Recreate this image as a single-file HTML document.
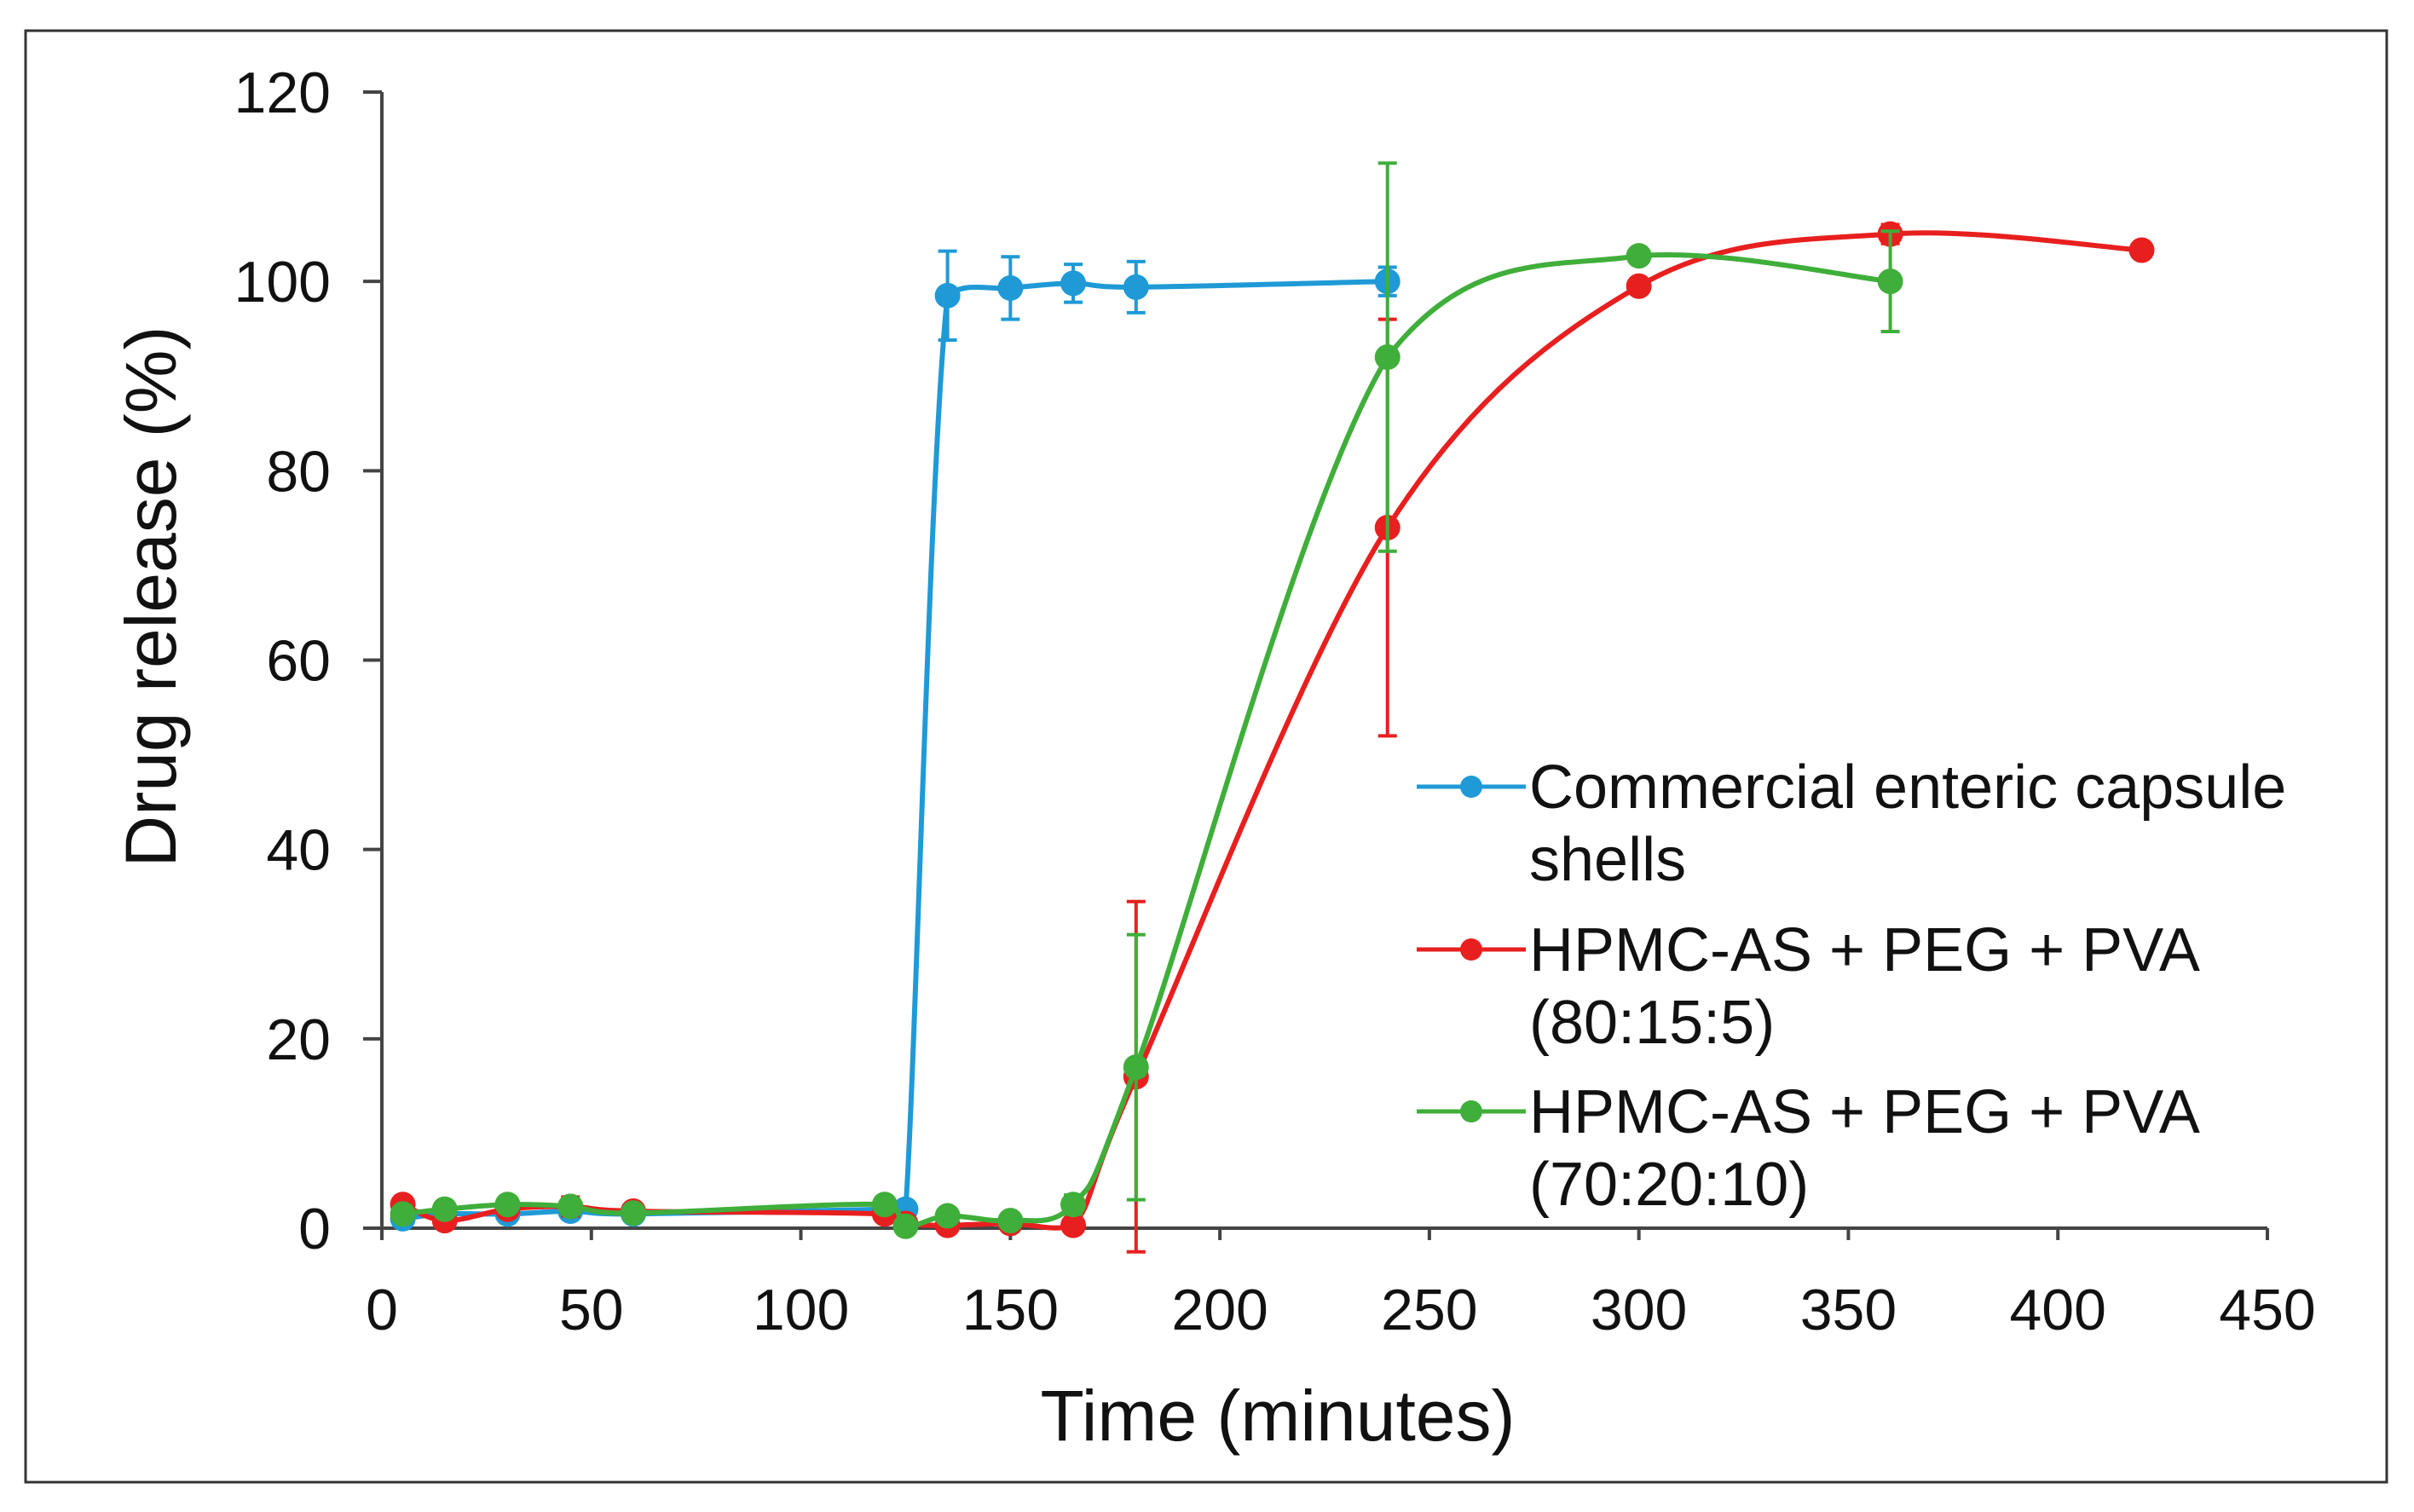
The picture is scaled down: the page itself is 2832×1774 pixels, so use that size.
<!DOCTYPE html>
<html><head><meta charset="utf-8"><style>
html,body{margin:0;padding:0;background:#fff;}
svg{display:block;font-family:"Liberation Sans",Arial,sans-serif;}
</style></head><body>
<svg id="chart" width="2832" height="1774" viewBox="0 0 2832 1774">
<rect x="30" y="36" width="2770" height="1703" fill="#fff" stroke="#333" stroke-width="3"/>
<g id="axes"></g><g id="series"></g><g id="legend"></g>
<text x="1499" y="1690" font-size="84" text-anchor="middle" fill="#111">Time (minutes)</text>
<text transform="translate(206,700) rotate(-90)" font-size="84" text-anchor="middle" fill="#111">Drug release (%)</text>
</svg>
<script>
const xTicks=[0,50,100,150,200,250,300,350,400,450];
const yTicks=[0,20,40,60,80,100,120];
const blueX=[5,15,30,45,60,120,125,135,150,165,180,240];
const blueY=[1,1.5,1.5,1.8,1.5,2,2,98.5,99.3,99.8,99.4,100];
const blueErr=[0,0,0,0.5,0,0,0,4.7,3.3,2,2.7,1.5];
const redX=[5,15,30,45,60,120,125,135,150,165,180,240,300,360,420];
const redY=[2.5,0.8,2,2.3,1.8,1.5,0.5,0.3,0.5,0.3,16,74,99.5,105,103.3];
const redErr=[0,0,0,1,0,0,0,0,0,0,18.5,22,0,1,0];
const greenX=[5,15,30,45,60,120,125,135,150,165,180,240,300,360];
const greenY=[1.5,2,2.5,2.3,1.6,2.5,0.2,1.3,0.8,2.5,17,92,102.7,100];
const greenErr=[0,0,0,0,0,0,0,0,0,1,14,20.5,0,5.3];
const seriesNames=["Commercial enteric capsule|shells","HPMC-AS + PEG + PVA|(80:15:5)","HPMC-AS + PEG + PVA|(70:20:10)"];
const NS="http://www.w3.org/2000/svg";
const X0=448,X1=2660,Y0=1441,Y1=108;
function sx(v){return X0+(v-0)/(450-0)*(X1-X0);}
function sy(v){return Y0-(v-0)/(120-0)*(Y0-Y1);}
function mk(tag,attrs,parent){const e=document.createElementNS(NS,tag);for(const k in attrs)e.setAttribute(k,attrs[k]);parent.appendChild(e);return e;}
const axes=document.getElementById('axes');
let a=mk('line',{x1:X0,y1:Y0,x2:X1,y2:Y0,stroke:'#444','stroke-width':4},axes);


a=mk('line',{x1:X0,y1:Y0,x2:X0,y2:Y1,stroke:'#444','stroke-width':4},axes);


xTicks.forEach(t=>{
 const l=mk('line',{x1:sx(t),y1:Y0,x2:sx(t),y2:Y0+14,stroke:'#444','stroke-width':4},axes);
 
 
 const tx=mk('text',{x:sx(t),y:1560,'font-size':68,'text-anchor':'middle',fill:'#111'},axes);tx.textContent=t;
 
 
});
yTicks.forEach(t=>{
 const l=mk('line',{x1:X0-22,y1:sy(t),x2:X0,y2:sy(t),stroke:'#444','stroke-width':4},axes);
 
 
 const tx=mk('text',{x:388,y:sy(t)+24,'font-size':68,'text-anchor':'end',fill:'#111'},axes);tx.textContent=t;
 
 
});
function clamp(v,lo,hi){return Math.max(lo,Math.min(hi,v));}
function smooth(pts){
 let d='M'+pts[0][0]+','+pts[0][1];
 for(let i=0;i<pts.length-1;i++){
  const p0=pts[Math.max(0,i-1)],p1=pts[i],p2=pts[i+1],p3=pts[Math.min(pts.length-1,i+2)];
  const t=1/6;
  const lo=Math.min(p1[1],p2[1])-8,hi=Math.max(p1[1],p2[1])+8;
  let c1x=clamp(p1[0]+(p2[0]-p0[0])*t,p1[0],p2[0]),c1y=clamp(p1[1]+(p2[1]-p0[1])*t,lo,hi);
  let c2x=clamp(p2[0]-(p3[0]-p1[0])*t,p1[0],p2[0]),c2y=clamp(p2[1]-(p3[1]-p1[1])*t,lo,hi);
  d+=' C'+c1x+','+c1y+' '+c2x+','+c2y+' '+p2[0]+','+p2[1];
 }
 return d;
}
const sg=document.getElementById('series');
function drawSeries(xs,ys,es,color,name){
 const g=mk('g',{},sg);
 
 
 xs.forEach((x,i)=>{ if(es[i]>0){
  const cx=sx(x),t=sy(ys[i]+es[i]),b=sy(ys[i]-es[i]);
  const e=mk('path',{d:`M${cx},${t}V${b}M${cx-11},${t}H${cx+11}M${cx-11},${b}H${cx+11}`,stroke:color,'stroke-width':4,fill:'none'},g);
  
  
 }});
 const pts=xs.map((x,i)=>[sx(x),sy(ys[i])]);
 const p=mk('path',{d:smooth(pts),stroke:color,'stroke-width':6,fill:'none'},g);
 
 
 pts.forEach(q=>{
  const c=mk('circle',{cx:q[0],cy:q[1],r:15,fill:color},g);
  
  
 });
}
drawSeries(blueX,blueY,blueErr,'#1f9ad6','commercial');
drawSeries(redX,redY,redErr,'#e81f1f','hpmc-80-15-5');
drawSeries(greenX,greenY,greenErr,'#3fae3a','hpmc-70-20-10');
const lg=document.getElementById('legend');
const colors=['#1f9ad6','#e81f1f','#3fae3a'];
const rowY=[923,1114,1304];
seriesNames.forEach((n,i)=>{
 const g=mk('g',{},lg);
 
 
 const y=rowY[i];
 mk('line',{x1:1662,y1:y,x2:1790,y2:y,stroke:colors[i],'stroke-width':5},g);
 mk('circle',{cx:1726,cy:y,r:13,fill:colors[i]},g);
 const parts=n.split('|');
 const t1=mk('text',{x:1794,y:y+25,'font-size':72,fill:'#111'},g);t1.textContent=parts[0];
 const t2=mk('text',{x:1794,y:y+110,'font-size':72,fill:'#111'},g);t2.textContent=parts[1];
});
</script>
</body></html>
